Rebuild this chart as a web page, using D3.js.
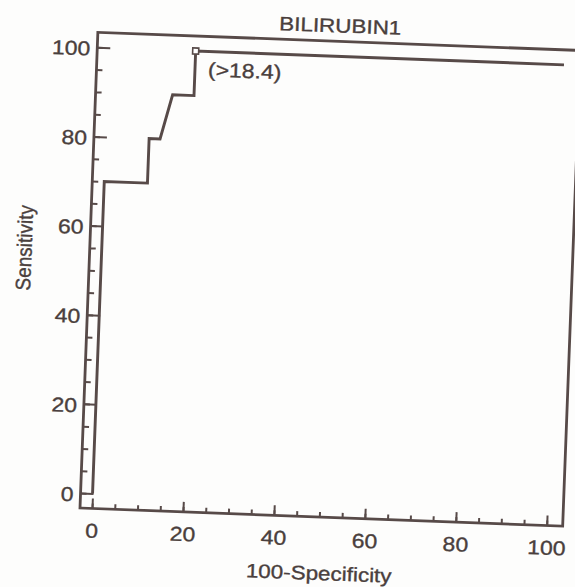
<!DOCTYPE html>
<html>
<head>
<meta charset="utf-8">
<script src="https://cdn.jsdelivr.net/npm/d3@7"></script>
<style>
  body { margin: 0; background: #fdfdfc; }
  text { font-family: "Liberation Sans", Arial, sans-serif; fill: #4a3f3d; stroke: #4a3f3d; stroke-width: 0.35px; }
</style>
</head>
<body>
<div id="chart"></div>
<script>
// ROC curve points (100-specificity, sensitivity)
var fpr  = [0, 0, 9.5, 9.5, 11.9, 14.3, 19.0, 19.0, 100];
var sens = [0, 70, 70, 80, 80, 90, 90, 100, 100];

// optimal criterion
var cutX = [19.0];
var cutY = [100];
var cutLabel = ["(>18.4)"];

var xTicks = [0, 20, 40, 60, 80, 100];
var yTicks = [0, 20, 40, 60, 80, 100];
var minorTicks = d3.range(0, 101, 5);

var title = "BILIRUBIN1";
var xTitle = "100-Specificity";
var yTitle = "Sensitivity";

var width = 575, height = 587;
var ink = "#574a48";
var stretch = 1.15;   // scan is a bit wide horizontally

var svg = d3.select("#chart")
  .append("svg")
  .attr("width", width)
  .attr("height", height);

// the scanned page is turned a little clockwise
var g = svg.append("g")
  .attr("transform", "rotate(2.15, 80, 508)");

var frame = {left: 80, right: 563, top: 32, bottom: 508};

var x = d3.scaleLinear().domain([0, 100]).range([92, 547]);
var y = d3.scaleLinear().domain([0, 100]).range([493, 47]);

// frame
g.append("rect")
  .attr("x", frame.left)
  .attr("y", frame.top)
  .attr("width", frame.right - frame.left)
  .attr("height", frame.bottom - frame.top)
  .attr("fill", "none")
  .attr("stroke", ink)
  .attr("stroke-width", 2.8);

// y axis, ticks point inward
var yMinor = g.append("g")
  .attr("transform", "translate(" + frame.left + ",0)")
  .call(d3.axisLeft(y).tickValues(minorTicks).tickSizeInner(-6).tickSizeOuter(0).tickFormat(""));
var yAxis = g.append("g")
  .attr("transform", "translate(" + frame.left + ",0)")
  .call(d3.axisLeft(y).tickValues(yTicks).tickSizeInner(-13).tickSizeOuter(0).tickPadding(6));

// x axis, ticks point up
var xMinor = g.append("g")
  .attr("transform", "translate(0," + frame.bottom + ")")
  .call(d3.axisBottom(x).tickValues(minorTicks).tickSizeInner(-5).tickSizeOuter(0).tickFormat(""));
var xAxis = g.append("g")
  .attr("transform", "translate(0," + frame.bottom + ")")
  .call(d3.axisBottom(x).tickValues(xTicks).tickSizeInner(-10).tickSizeOuter(0).tickPadding(15));

[yMinor, yAxis, xMinor, xAxis].forEach(function(a){
  a.select(".domain").remove();
  a.selectAll("line").attr("stroke", ink).attr("stroke-width", 2);
  a.selectAll("text")
    .attr("font-size", "20px")
    .attr("font-family", null)
    .attr("fill", null);
});
yAxis.selectAll("text").attr("dy", "0.4em")
  .attr("transform", "scale(" + stretch + ",1)");
xAxis.selectAll("text")
  .attr("transform", "scale(" + stretch + ",1)");

// roc curve
var pts = fpr.map(function(d, i){ return [d, sens[i]]; });
var line = d3.line()
  .x(function(d){ return x(d[0]); })
  .y(function(d){ return y(d[1]); });

g.append("path")
  .datum(pts)
  .attr("d", line)
  .attr("fill", "none")
  .attr("stroke", ink)
  .attr("stroke-width", 2.9)
  .attr("stroke-linejoin", "miter");

// criterion marker + label
g.selectAll(".cut")
  .data(cutX)
  .enter()
  .append("rect")
  .attr("class", "cut")
  .attr("x", function(d){ return x(d) - 3; })
  .attr("y", function(d, i){ return y(cutY[i]) - 3; })
  .attr("width", 6)
  .attr("height", 6)
  .attr("fill", "#fff")
  .attr("stroke", ink)
  .attr("stroke-width", 1.6);

g.selectAll(".cutlab")
  .data(cutX)
  .enter()
  .append("text")
  .attr("class", "cutlab")
  .attr("transform", function(d, i){
    return "translate(" + (x(d) + 13) + "," + (y(cutY[i]) + 25) + ") scale(" + stretch + ",1)";
  })
  .attr("font-size", "20px")
  .text(function(d, i){ return cutLabel[i]; });

// titles
g.append("text")
  .attr("transform", "translate(322,23) scale(" + stretch + ",1)")
  .attr("text-anchor", "middle")
  .attr("font-size", "19.5px")
  .text(title);

g.append("text")
  .attr("transform", "translate(321,571) scale(" + stretch + ",1)")
  .attr("text-anchor", "middle")
  .attr("font-size", "19.5px")
  .text(xTitle);

g.append("text")
  .attr("transform", "translate(22,250) rotate(-90) scale(1,1.1)")
  .attr("text-anchor", "middle")
  .attr("font-size", "19px")
  .text(yTitle);
</script>
</body>
</html>
